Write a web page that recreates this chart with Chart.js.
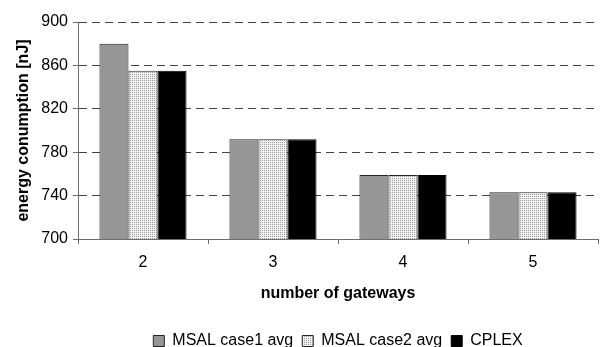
<!DOCTYPE html>
<html>
<head>
<meta charset="utf-8">
<script src="https://cdn.jsdelivr.net/npm/chart.js@4/dist/chart.umd.min.js"></script>
<style>
  html, body { margin: 0; padding: 0; background: #fff; overflow: hidden; }
  #wrap { width: 603px; height: 347px; }
</style>
</head>
<body>
<div id="wrap"><canvas id="energyChart" width="603" height="347"></canvas></div>
<script>
// number of gateways
const gateways = ["2", "3", "4", "5"];
// energy consumption [nJ]
const msalCase1 = [880, 792, 759, 743];
const msalCase2 = [855, 792, 759, 743];
const cplex = [855, 792, 759, 743];
const yTicks = [700, 740, 780, 820, 860, 900];

// dotted fill used by Excel for the second series
function dotPattern() {
  const c = document.createElement("canvas");
  c.width = 2;
  c.height = 2;
  const g = c.getContext("2d");
  g.fillStyle = "#f2f2f2";
  g.fillRect(0, 0, 2, 2);
  g.fillStyle = "#9a9a9a";
  g.fillRect(0, 0, 1, 1);
  return g.createPattern(c, "repeat");
}

const font = "'Liberation Sans', Arial, sans-serif";

const ctx = document.getElementById("energyChart").getContext("2d");
new Chart(ctx, {
  type: "bar",
  data: {
    labels: gateways,
    datasets: [
      {
        label: "MSAL case1 avg",
        data: msalCase1,
        backgroundColor: "#969696",
        borderColor: "#222",
        borderWidth: 1,
      },
      {
        label: "MSAL case2 avg",
        data: msalCase2,
        backgroundColor: dotPattern(),
        borderColor: "#222",
        borderWidth: 1,
      },
      {
        label: "CPLEX",
        data: cplex,
        backgroundColor: "#000",
        borderColor: "#000",
        borderWidth: 1,
      },
    ],
  },
  options: {
    responsive: false,
    animation: false,
    layout: { padding: { top: 22, right: 5, bottom: -12, left: 0 } },
    datasets: { bar: { categoryPercentage: 0.67, barPercentage: 1.0 } },
    plugins: {
      tooltip: { enabled: false },
      legend: {
        position: "bottom",
        fullSize: false,
        labels: {
          color: "#000",
          font: { family: font, size: 16 },
          boxWidth: 11,
          boxHeight: 11,
          padding: 9,
        },
      },
    },
    scales: {
      x: {
        afterFit: (s) => { s.height = 85; },
        grid: {
          offset: true,
          drawOnChartArea: false,
          tickLength: 5,
          color: "#6e6e6e",
        },
        border: { color: "#6e6e6e" },
        ticks: { color: "#000", padding: 9, font: { family: font, size: 16 } },
        title: {
          display: true,
          text: "number of gateways",
          color: "#000",
          padding: { top: 0, bottom: 21 },
          font: { family: font, size: 16, weight: "bold" },
        },
      },
      y: {
        min: 700,
        max: 900,
        afterFit: (s) => { s.width = 78; },
        afterBuildTicks: (s) => { s.ticks = yTicks.map((v) => ({ value: v })); },
        grid: {
          color: "#444",
          tickLength: 5,
          tickColor: "#6e6e6e",
        },
        border: { color: "#6e6e6e", dash: [8, 5] },
        ticks: { color: "#000", padding: 5, font: { family: font, size: 16 } },
        title: {
          display: true,
          text: "energy conumption [nJ]",
          color: "#000",
          padding: { top: 14, bottom: 0 },
          font: { family: font, size: 16, weight: "bold" },
        },
      },
    },
  },
});
</script>
</body>
</html>
